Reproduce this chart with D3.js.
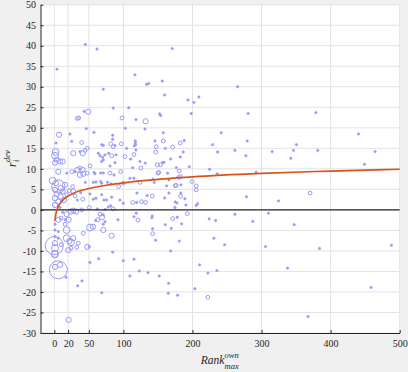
<!DOCTYPE html>
<html><head><meta charset="utf-8">
<script src="https://cdn.jsdelivr.net/npm/d3@7"></script>
<style>html,body{margin:0;padding:0;background:#f0f0f0;}svg{display:block}</style>
</head><body>
<svg id="c" width="408" height="372"></svg>
<script>
const xTicks=[0,20,50,100,200,300,400,500];
const yTicks=[-30,-25,-20,-15,-10,-5,0,5,10,15,20,25,30,35,40,45,50];
const xDomain=[-20,500];
const yDomain=[-30,50];

// scatter: rank (x), deviation (y), marker size class (w)
const ptX=[3.9,44.9,61.8,116.7,70.9,85.3,107.6,43,49.2,33.3,35.3,98,46.3,102.7,170.7,133.7,136.6,156.2,265.3,159.7,193.4,202.1,209.3,152.5,153.9,198.2,280.6,132.2,131.2,378.6,157.7,241.6,117.2,117.2,117.7,115.7,145.7,157.7,188,182.3,147.5,160.6,171.3,229.1,279.2,118.2,146.7,186.6,236.4,261.4,115.3,182.3,277.3,110.5,168.4,131.6,149,153.9,156.8,158.7,113.4,125.4,176.5,195.3,224.8,151.5,150,164,180.8,235.8,292.2,109.5,115.3,142.8,166,180,182.8,124,144.7,199.6,205.4,162.6,175,176.5,183.3,205.4,119.6,134.5,141.8,165.9,183.3,182.8,189,278.3,113.4,119.2,126.4,132.2,159.7,175,177.5,190.5,205.4,207.4,174.6,192.4,118.6,115.3,141.8,141.3,121.1,171.3,177.9,184.3,224.2,233.5,261.4,287.4,160.6,169.3,142.3,142.3,146.7,180.8,231,246.5,440.3,350.6,315.4,346.3,381.4,464.4,342.4,449,370.3,324.6,310.1,347.2,383.9,488,337.6,458.6,367.4,305.8,115.3,168.4,123,135.5,109.5,151.9,165.5,164.9,178.5,210.3,222.3,235.4,203.5,222.3,84.5,99.8,51.6,64.2,68.6,40,33.8,16.9,20.8,47.7,50.6,34.7,32.4,20.3,9.7,24.2,1,1,0,5.8,0.5,
8.2,12.1,17.9,23.7,27.5,31.4,39.6,50.6,62.2,73.8,78.1,81.6,85.3,9.7,15.5,20.8,5.8,66.1,69,62.8,59.9,92.1,70.9,1,15.5,51.6,56,1,5.8,17.9,70.9,83,41.9,1,5.8,17.9,27.5,21.7,1,24.2,1,8.2,
6.8,2.5,2,1,3.5,1,8.2,12.1,5.8,-2.3,2.5,5.8,1,3.5,1,5.8,1,9.2,12.1,9.2,14,15.5,17.9,21.7,26.6,27.5,30,25.2,30,33.3,37.2,41.1,41.9,37.2,47.7,51.6,17.9,27.5,37.2,41.1,44.4,47.7,39.6,22.7,25.2,57.4,81.6,68.6,70.9,85.3,96.9,104.7,63.7,66.1,70,78.7,83,70.9,68.6,87.8,57.4,58.9,80.6,96,86.4,44.8,56.4,60.3,67.1,68.6,93.2,99.8,33.3,38.2,51.6,41.1,56.4,60.3,68.6,71.9,75.8,83,95,99.8,
118.2,84.5,84.5,87.8,73.3,89.3,102.3,124,80.6,67.1,70.9,77.2,82,70.9,73.3];
const ptY=[34.3,40.3,39.2,32.9,29.4,24.8,24.9,24.0,23.9,22.3,22.4,22.4,19.8,19.9,39.3,30.6,30.8,31.4,30.0,28.0,26.8,26.2,27.5,23.4,23.0,23.5,23.5,21.6,19.7,23.7,18.8,18.8,16.8,16.3,15.9,15.6,16.8,16.8,16.9,16.3,15.4,15.0,15.3,15.9,16.8,14.6,14.1,14.1,14.1,14.5,13.5,12.9,13.2,12.4,12.4,11.4,11.0,11.0,11.5,11.6,10.3,10.2,10.3,10.5,9.9,9.1,9.0,8.95,9.5,8.8,9.2,7.7,7.7,7.5,7.3,7.9,8.1,6.7,6.7,6.9,5.85,5.85,5.9,6.0,6.1,4.9,4.1,3.5,3.4,4.1,4.1,3.3,2.7,3.2,1.8,1.8,2.0,1.8,2.9,1.95,1.7,1.2,1.1,1.5,0.6,-0.9,-0.8,-1.7,-1.5,-1.9,-2.5,-2.1,-1.8,-3.4,-2.2,-2.6,-1.05,-2.8,-3.6,-4.5,-4.6,-5.8,-7.4,-7.6,-6.9,-8.5,18.5,15.9,14.2,14.5,14.5,14.2,12.6,11.1,4.1,2.2,-0.8,-3.6,-9.4,-8.6,-14.2,-18.9,-26.0,-8.95,-12.0,-10.0,-14.9,-15.3,-16.1,-16.1,-17.9,-20.3,-20.8,-13.4,-15.4,-14.8,-19.2,-21.3,-10.3,-12.4,-12.8,-11.9,-20.2,-17.3,-18.5,-16.4,-26.8,-9.0,-9.0,-8.1,-9.1,-9.8,-8.5,-7.9,-10.8,-13.9,-8.7,-14.6,-10.8,
0.6,-0.6,-1.05,-0.4,-0.2,-0.4,0,0.6,0.25,0.1,0.7,1.0,0.25,-2.0,-2.4,-2.4,-2.4,-1.05,-1.8,-2.4,-2.6,-2.4,-3.5,-3.5,-3.5,-4.3,-4.1,-4.9,-5.3,-4.9,-4.9,-6.3,-5.7,-6.5,-6.9,-6.9,-6.9,-7.6,-8.1,-9.3,-9.3,-13.4,
18.3,16.3,14.1,13.2,12.2,11.5,11.8,11.8,9.3,7.1,6.5,5.7,4.9,3.9,2.85,2.0,1.2,5.3,4.5,3.25,2.4,6.1,3.7,4.7,5.7,4.5,3.4,9.3,9.3,9.75,10.2,9.75,8.8,8.5,8.95,10.7,8.95,13.8,14.2,13.8,14.5,15.0,16.4,18.5,16.7,18.9,16.1,15.9,15.7,15.4,16.1,15.0,13.8,13.2,12.85,13.8,13.2,12.2,11.8,11.5,9.1,8.8,8.95,9.3,8.5,6.7,6.7,6.8,6.9,6.5,5.7,6.5,2.4,4.2,3.9,2.6,2.6,2.85,3.7,2.4,2.4,3.1,2.4,1.6,
22.0,18.2,17.2,15.7,13.4,13.4,13.0,11.8,10.7,9.0,9.0,6.75,6.3,-1.2,-2.9];
const ptW=[1,1,1,1,1,1,1,1,3,2,2,2,1,1,1,1,1,1,1,1,1,1,1,1,1,1,1,3,1,1,1,1,1,1,1,1,1,2,1,2,2,1,2,1,1,1,2,1,1,1,2,1,1,1,1,1,2,2,1,1,1,2,1,1,1,2,2,1,2,1,1,1,1,1,1,2,2,2,1,2,2,1,2,2,1,2,1,1,2,1,1,2,1,1,2,1,2,2,1,1,1,1,1,1,1,2,1,1,1,1,2,2,1,1,1,1,1,1,1,1,1,2,1,1,1,1,1,1,1,1,1,1,1,1,2,1,1,1,1,1,1,1,1,1,1,1,1,1,1,1,1,1,1,1,1,1,1,2,1,1,1,1,1,1,1,1,3,3,1,2,2,3,2,4,4,3,9,9,4,1,1,
3,3,3,3,2,2,1,1,1,1,2,2,1,3,3,2,3,2,1,1,1,1,2,4,3,1,1,4,3,3,2,1,1,4,3,3,3,2,4,3,3,1,
4,4,3,3,3,3,3,4,3,7,3,3,3,3,3,3,3,3,3,3,2,2,2,3,2,2,1,3,2,3,3,3,2,2,1,3,1,3,2,2,2,1,1,1,2,1,1,2,2,1,1,1,1,1,2,1,1,1,1,1,2,2,1,1,1,1,1,1,2,2,1,1,1,2,1,1,1,1,1,1,1,1,1,1,
1,1,1,1,2,1,1,1,1,1,1,1,1,1,2];

// fitted trend curve
const fitX=[1,2,3,5,8,15,27,50,75,110,200,300,400,500];
const fitY=[-2.7,-1.3,-0.5,0.6,1.5,2.8,4.0,5.2,6.0,6.8,8.05,8.9,9.45,9.9];

const L=40.5,R=399.7,T=4.7,B=333;
const svg=d3.select("#c");
const x=d3.scaleLinear().domain(xDomain).range([L,R]);
const y=d3.scaleLinear().domain(yDomain).range([B,T]);
const rS=d3.scaleLinear().domain([1,2,3,4,7,9]).range([1.2,1.9,2.6,3.4,6.6,9]);
const col="#9a9af8", ink="#262626", gridC="#e3e3e3";

svg.append("rect").attr("x",L).attr("y",T).attr("width",R-L).attr("height",B-T).attr("fill","#fff");

// grid
svg.append("g").selectAll("line").data(yTicks).join("line")
  .attr("x1",L).attr("x2",R).attr("y1",d=>y(d)).attr("y2",d=>y(d))
  .attr("stroke",gridC).attr("stroke-width",1);
svg.append("g").selectAll("line").data(xTicks).join("line")
  .attr("y1",T).attr("y2",B).attr("x1",d=>x(d)).attr("x2",d=>x(d))
  .attr("stroke",gridC).attr("stroke-width",1);

// scatter
const pts=ptX.map((v,i)=>({x:v,y:ptY[i],w:ptW[i]}));
svg.append("g").selectAll("circle").data(pts).join("circle")
  .attr("cx",d=>x(d.x)).attr("cy",d=>y(d.y)).attr("r",d=>rS(d.w))
  .attr("fill",d=>d.w===1?col:"none").attr("stroke",col).attr("stroke-width",d=>d.w===1?0.6:1);

// zero line
svg.append("line").attr("x1",L).attr("x2",R).attr("y1",y(0)).attr("y2",y(0))
  .attr("stroke",ink).attr("stroke-width",1.3);

// trend
svg.append("path").datum(fitX.map((v,i)=>[v,fitY[i]]))
  .attr("d",d3.line().x(d=>x(d[0])).y(d=>y(d[1])).curve(d3.curveMonotoneX))
  .attr("fill","none").attr("stroke","#d95319").attr("stroke-width",1.6);

// axes
const font="'Liberation Serif','Times New Roman',serif";
const ya=svg.append("g").attr("transform",`translate(${L},0)`)
  .call(d3.axisLeft(y).tickValues(yTicks).tickSize(-3).tickSizeOuter(0).tickPadding(4.5).tickFormat(d=>String(d).replace("\u2212","-")));
const xa=svg.append("g").attr("transform",`translate(0,${B})`)
  .call(d3.axisBottom(x).tickValues(xTicks).tickSize(-3).tickSizeOuter(0).tickPadding(7));
[ya,xa].forEach(g=>{
  g.selectAll("path,line").attr("stroke",ink);
  g.selectAll("text").attr("fill",ink).style("font-family",font).style("font-size","10px");
});
xa.select(".domain").attr("stroke-width",1);
ya.select(".domain").attr("stroke-width",1);

// x label
const xl=svg.append("g").style("font-family",font).style("font-style","italic").attr("fill",ink);
xl.append("text").attr("x",200.7).attr("y",364).style("font-size","11.5px").text("Rank");
xl.append("text").attr("x",224.5).attr("y",358).style("font-size","8.5px").text("own");
xl.append("text").attr("x",224.5).attr("y",368.5).style("font-size","8.5px").text("max");

// y label
const yl=svg.append("g").attr("transform","translate(16,161) rotate(-90)")
  .style("font-family",font).style("font-style","italic").attr("fill",ink);
yl.append("text").attr("x",-6).attr("y",0).style("font-size","11.5px").text("r");
yl.append("text").attr("x",-1).attr("y",-6).style("font-size","8.5px").text("dev");
yl.append("text").attr("x",-1).attr("y",3).style("font-size","8.5px").text("i");
</script>
</body></html>
